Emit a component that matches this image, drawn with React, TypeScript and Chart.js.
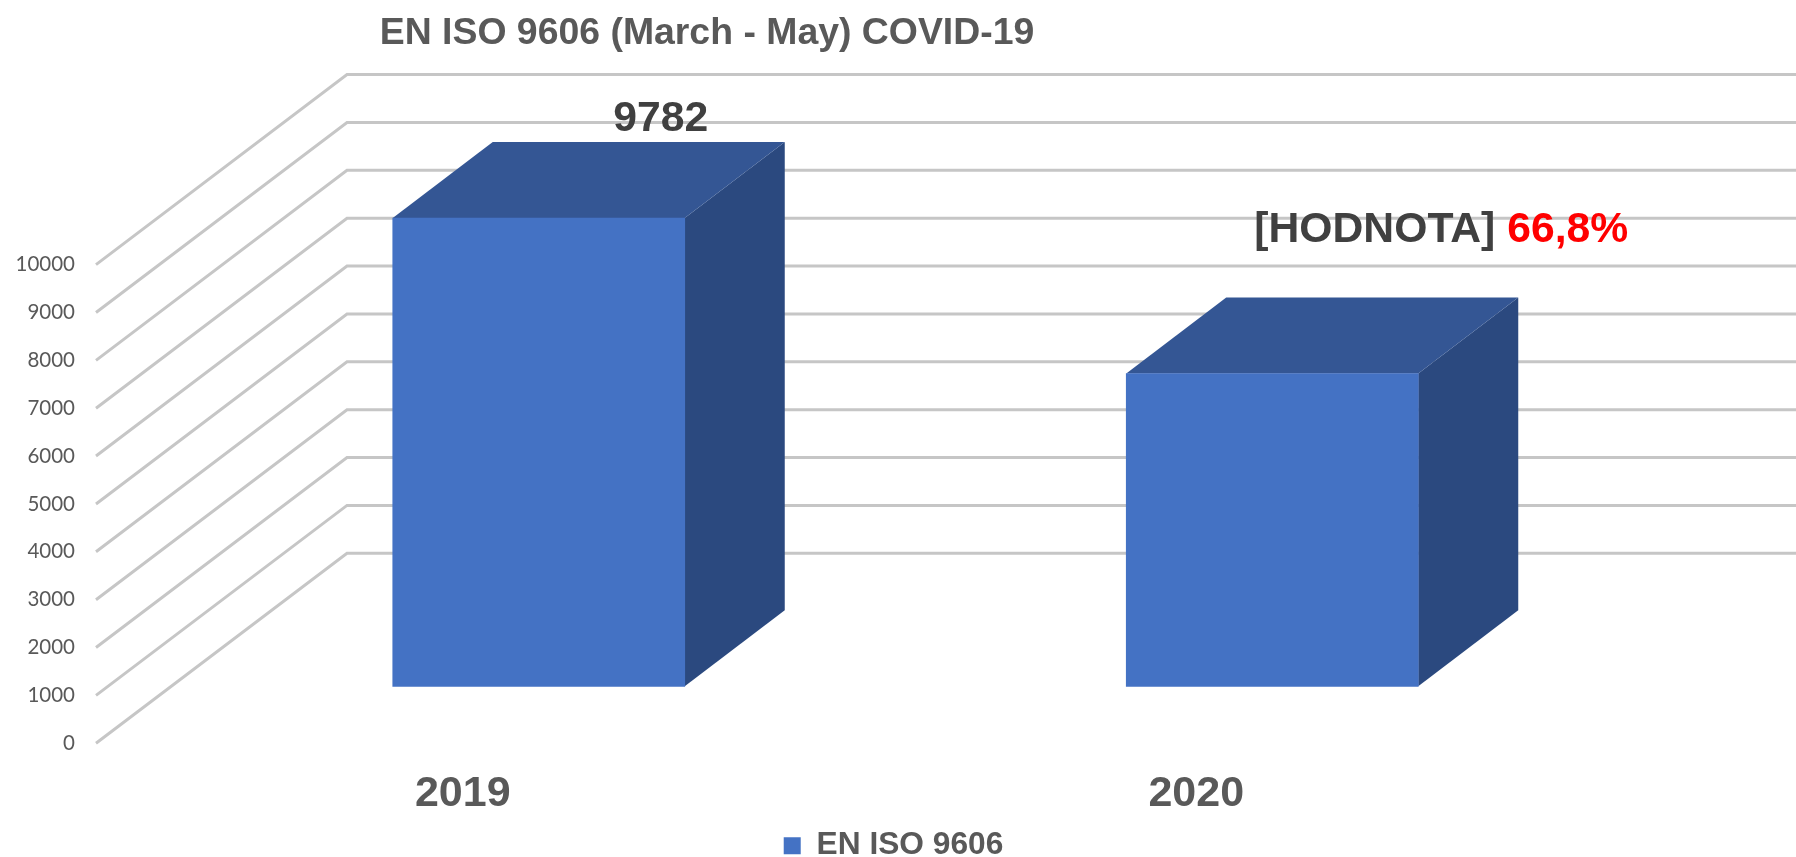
import React, { useEffect, useRef } from "react";
import { Chart, registerables } from "chart.js";

Chart.register(...registerables);

const years = ["2019", "2020"];
const seriesName = "EN ISO 9606";
const values = [9782, 6534];
const titleText = "EN ISO 9606 (March - May) COVID-19";
const percentText = "66,8%";
const placeholderText = "[HODNOTA]";

const W = 1796;
const H = 857;
const wallDX = 251;
const wallDY = 190;
const barDX = 76;
const barDY = 57;
const depthDX = 100;
const depthDY = 76;

const gridColor = "#c6c6c6";
const frontColor = "#4472C4";
const sideColor = "#2B497F";
const topColor = "#345694";

const depthPlugin = {
  id: "depth",
  afterLayout(chart: any) {
    chart.titleBlock.left = 0;
    chart.titleBlock.right = 1414;
    chart.legend.left = 0;
    chart.legend.right = W - 9;
    chart.legend.top += 14.5;
  },
  beforeDatasetsDraw(chart: any) {
    const { ctx, scales, chartArea } = chart;
    const y = scales.y;
    ctx.save();
    ctx.strokeStyle = gridColor;
    ctx.lineWidth = 3;
    ctx.lineJoin = "miter";
    y.ticks.forEach((t: any) => {
      const py = y.getPixelForValue(t.value);
      ctx.beginPath();
      ctx.moveTo(chartArea.left, py);
      ctx.lineTo(chartArea.left + wallDX, py - wallDY);
      ctx.lineTo(chart.width, py - wallDY);
      ctx.stroke();
    });
    ctx.restore();
  },
  beforeDatasetDraw(chart: any, args: any) {
    const { ctx } = chart;
    const meta = chart.getDatasetMeta(args.index);
    ctx.save();
    ctx.translate(barDX, -barDY);
    meta.data.forEach((bar: any) => {
      const l = bar.x - bar.width / 2;
      const r = bar.x + bar.width / 2;
      const t = bar.y;
      const b = bar.base;
      ctx.fillStyle = sideColor;
      ctx.beginPath();
      ctx.moveTo(r, t);
      ctx.lineTo(r + depthDX, t - depthDY);
      ctx.lineTo(r + depthDX, b - depthDY);
      ctx.lineTo(r, b);
      ctx.closePath();
      ctx.fill();
      ctx.fillStyle = topColor;
      ctx.beginPath();
      ctx.moveTo(l, t);
      ctx.lineTo(l + depthDX, t - depthDY);
      ctx.lineTo(r + depthDX, t - depthDY);
      ctx.lineTo(r, t);
      ctx.closePath();
      ctx.fill();
    });
  },
  afterDatasetDraw(chart: any) {
    chart.ctx.restore();
  },
  afterDatasetsDraw(chart: any) {
    const { ctx } = chart;
    const bars = chart.getDatasetMeta(0).data;
    ctx.save();
    ctx.font = "bold 42.7px 'Liberation Sans'";
    ctx.textBaseline = "middle";
    ctx.textAlign = "center";
    ctx.fillStyle = "#404040";
    ctx.fillText(
      String(values[0]),
      bars[0].x + barDX + depthDX + 22,
      bars[0].y - barDY - depthDY - 23
    );
    const a = placeholderText + " ";
    const wa = ctx.measureText(a).width;
    const wb = ctx.measureText(percentText).width;
    const x0 = bars[1].x + barDX + depthDX + 69 - (wa + wb) / 2;
    const ly = bars[1].y - barDY - depthDY - 67;
    ctx.textAlign = "left";
    ctx.fillText(a, x0, ly);
    ctx.fillStyle = "#FF0000";
    ctx.fillText(percentText, x0 + wa, ly);
    ctx.restore();
  },
};

export default function App() {
  const ref = useRef<HTMLCanvasElement>(null);
  useEffect(() => {
    const chart = new Chart(ref.current as HTMLCanvasElement, {
      type: "bar",
      data: {
        labels: years,
        datasets: [
          {
            label: seriesName,
            data: values,
            backgroundColor: frontColor,
            borderWidth: 0,
            barThickness: 292,
            clip: false as any,
          },
        ],
      },
      plugins: [depthPlugin],
      options: {
        animation: false,
        responsive: false,
        maintainAspectRatio: false,
        layout: { padding: { left: 0, right: 233, top: 0, bottom: 0 } },
        plugins: {
          title: {
            display: true,
            text: titleText,
            color: "#595959",
            font: { family: "'Liberation Sans'", size: 37.4, weight: "bold" },
            padding: { top: 11.5, bottom: 208.2 },
          },
          legend: {
            display: true,
            position: "bottom",
            labels: {
              color: "#595959",
              font: { family: "'Liberation Sans'", size: 31.7, weight: "bold" },
              boxWidth: 17,
              boxHeight: 17,
              padding: 0,
            },
          },
          tooltip: { enabled: false },
        },
        scales: {
          x: {
            grid: { display: false },
            border: { display: false },
            ticks: {
              color: "#595959",
              font: { family: "'Liberation Sans'", size: 43, weight: "bold" },
              padding: 17,
              maxRotation: 0,
            },
            afterFit(s: any) {
              s.height = 72;
            },
          },
          y: {
            min: 0,
            max: 10000,
            grid: { display: false },
            border: { display: false },
            ticks: {
              stepSize: 1000,
              color: "#595959",
              font: { family: "Lato", size: 20.5 },
              padding: 13,
              callback: (v: any) => String(v),
            },
            afterFit(s: any) {
              s.width = 96;
            },
          },
        },
      },
    });
    return () => chart.destroy();
  }, []);
  return (
    <div style={{ position: "fixed", left: 0, top: 0, width: W, height: H, background: "#fff" }}>
      <canvas ref={ref} width={W} height={H} style={{ display: "block", width: W, height: H }} />
    </div>
  );
}
